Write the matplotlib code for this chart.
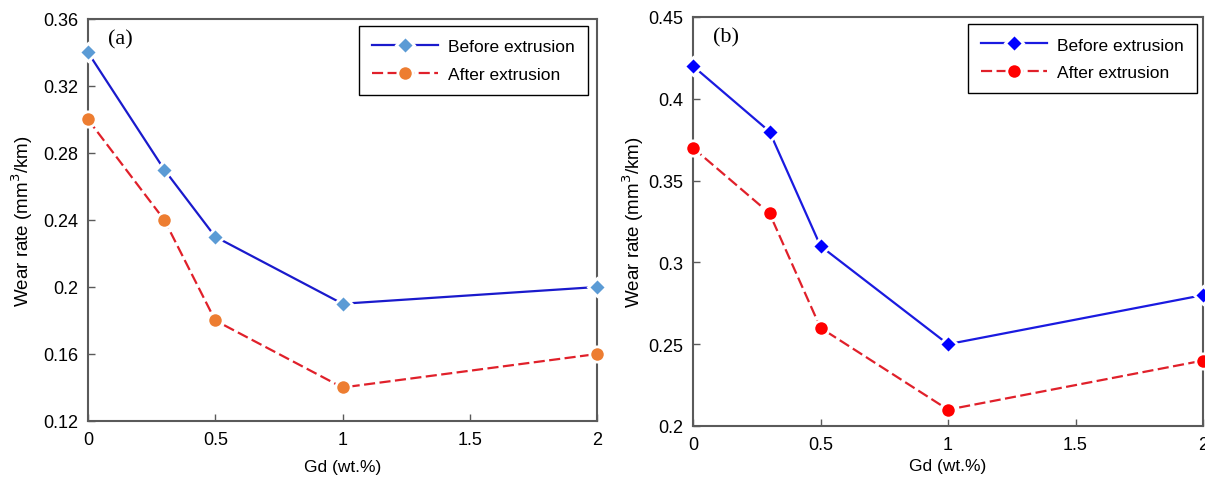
import matplotlib
matplotlib.use("Agg")
import matplotlib.pyplot as plt

gd = [0, 0.3, 0.5, 1, 2]
a_before = [0.34, 0.27, 0.23, 0.19, 0.20]
a_after = [0.30, 0.24, 0.18, 0.14, 0.16]
b_before = [0.42, 0.38, 0.31, 0.25, 0.28]
b_after = [0.37, 0.33, 0.26, 0.21, 0.24]

a_yticks = [0.12, 0.16, 0.2, 0.24, 0.28, 0.32, 0.36]
a_ylabels = ["0.12", "0.16", "0.2", "0.24", "0.28", "0.32", "0.36"]
b_yticks = [0.2, 0.25, 0.3, 0.35, 0.4, 0.45]
b_ylabels = ["0.2", "0.25", "0.3", "0.35", "0.4", "0.45"]
xticks = [0, 0.5, 1, 1.5, 2]
xlabels = ["0", "0.5", "1", "1.5", "2"]

plt.rcParams['font.family'] = ['Liberation Sans', 'DejaVu Sans']

fig = plt.figure(figsize=(12.05, 4.81), dpi=100)
ax1 = fig.add_axes([88/1205, 1-422/481, (597-88)/1205, (422-20)/481])
ax2 = fig.add_axes([693/1205, 1-427/481, (1203-693)/1205, (427-18)/481])

spine_c = '#5a5a5a'

def style(ax, yt, yl, ylim, tag, cb_line, cb_mk, ca_line, ca_mk, yb, ya, legx, ylpad, xlpad):
    ax.plot(gd, yb, color=cb_line, lw=1.6, marker='D', ms=9.5, mfc=cb_mk,
            mec='white', mew=2.0, label='Before extrusion', clip_on=False, zorder=3)
    ax.plot(gd, ya, color=ca_line, lw=1.6, ls=(0, (5, 2)), marker='o', ms=11,
            mfc=ca_mk, mec='white', mew=2.0, label='After extrusion', clip_on=False, zorder=3)
    ax.set_xlim(0, 2)
    ax.set_ylim(*ylim)
    ax.set_xticks(xticks)
    ax.set_xticklabels(xlabels)
    ax.set_yticks(yt)
    ax.set_yticklabels(yl)
    ax.tick_params(direction='in', length=5, width=1, color=spine_c,
                   labelsize=13, pad=7, top=False, right=False)
    for s in ax.spines.values():
        s.set_color(spine_c)
        s.set_linewidth(1.5)
    ax.set_xlabel('Gd (wt.%)', fontsize=12.5, labelpad=xlpad)
    ax.set_ylabel('Wear rate (mm$^3$/km)', fontsize=13.5, labelpad=ylpad)
    ax.text(0.04, 0.975, tag, transform=ax.transAxes, ha='left', va='top',
            fontsize=16, family=['Liberation Serif', 'DejaVu Serif'])
    leg = ax.legend(loc='upper right', bbox_to_anchor=(legx, 0.982), fontsize=12.5,
                    frameon=True, fancybox=False, edgecolor='black', framealpha=1,
                    handlelength=3.8, borderpad=0.75, labelspacing=0.7, handletextpad=0.6,
                    borderaxespad=0.0)
    leg.get_frame().set_linewidth(1.0)

style(ax1, a_yticks, a_ylabels, (0.12, 0.36), '(a)', '#1a1acc', '#5b9bd5',
      '#e0202a', '#ed7d31', a_before, a_after, 1 - 9/509, 6, 8)
style(ax2, b_yticks, b_ylabels, (0.2, 0.45), '(b)', '#1a1ae0', '#0000ff',
      '#e0202a', '#ff0000', b_before, b_after, 1 - 6/510, 2, 4)

fig.savefig('out.png', dpi=100)
